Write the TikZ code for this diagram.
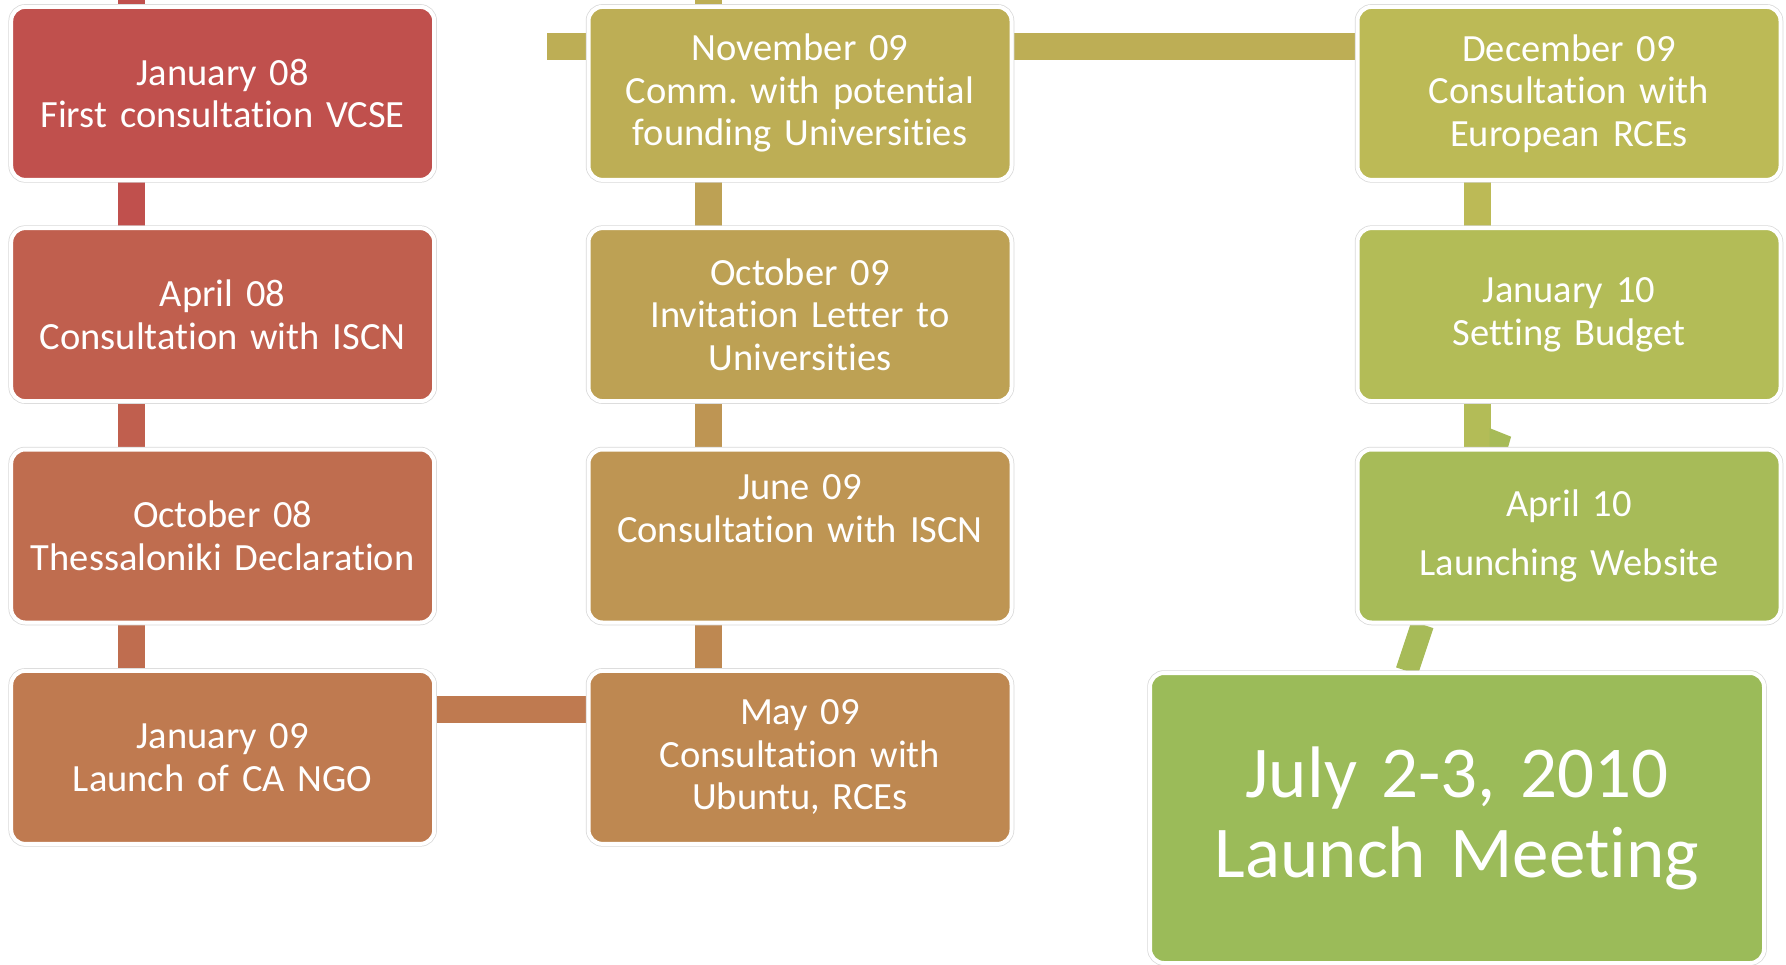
\documentclass[tikz,border=0pt]{standalone}
\usepackage{fontspec}
\setmainfont[Ligatures=NoCommon]{Carlito}
\frenchspacing
\usetikzlibrary{calc,backgrounds}
% one colour per event, red to green
\definecolor{t0}{RGB}{192,80,77}
\definecolor{t1}{RGB}{192,95,78}
\definecolor{t2}{RGB}{191,109,79}
\definecolor{t3}{RGB}{191,122,80}
\definecolor{t4}{RGB}{190,136,81}
\definecolor{t5}{RGB}{190,149,83}
\definecolor{t6}{RGB}{189,161,84}
\definecolor{t7}{RGB}{189,174,85}
\definecolor{t8}{RGB}{188,186,86}
\definecolor{t9}{RGB}{179,188,87}
\definecolor{t10}{RGB}{167,187,88}
\definecolor{t11}{RGB}{155,187,89}
\tikzset{
  event/.style={fill=#1, draw=white, line width=4pt, rounded corners=14pt,
    preaction={draw=black!15, line width=5.5pt},
    minimum width=423pt, minimum height=173pt, inner sep=0pt,
    text width=410pt, align=center, text=white,
    font=\fontsize{38.5}{42.5}\selectfont},
  link/.style={line width=27pt},
}

\begin{document}
\begin{tikzpicture}[x=1pt,y=-1pt]
  \useasboundingbox (0,0) rectangle (1786,964);
  % column 1
  \node[event=t0] (jan08) at (222.7,93.4) {January 08\\First consultation VCSE};
  \node[event=t1] (apr08) at (222.7,314.6) {April 08\\Consultation with ISCN};
  \node[event=t2] (oct08) at (222.7,536) {October 08\\Thessaloniki Declaration};
  \node[event=t3] (jan09) at (222.7,757.4) {January 09\\Launch of CA NGO};
  % column 2, read upwards
  \node[event=t4] (may09) at (800,757.4) {May 09\\Consultation with\\Ubuntu, RCEs};
  \node[event=t5] (jun09) at (800,536) {June 09\\Consultation with ISCN\\[0pt]\strut};
  \node[event=t6] (oct09) at (800,314.6) {October 09\\Invitation Letter to\\Universities};
  \node[event=t7] (nov09) at (800,93.4) {November 09\\Comm. with potential\\founding Universities};
  % column 3
  \node[event=t8] (dec09) at (1569,93.4) {December 09\\Consultation with\\European RCEs};
  \node[event=t9] (jan10) at (1569,314.6) {January 10\\Setting Budget};
  \node[event=t10, font=\fontsize{38.5}{59}\selectfont] (apr10) at (1569,536) {April 10\\Launching Website};
  \node[event=t11, minimum width=614pt, minimum height=290pt, text width=600pt,
    font=\fontsize{73}{80}\selectfont] (launch) at (1457,818) {July 2-3, 2010\\Launch Meeting};

  \begin{scope}[on background layer]
    \fill[white] (0,0) rectangle (1786,964);
    % vertical links
    \foreach \a/\b/\c in {jan08/apr08/t0, apr08/oct08/t1, oct08/jan09/t2,
                          nov09/oct09/t6, oct09/jun09/t5, jun09/may09/t4,
                          dec09/jan10/t8, jan10/apr10/t9}
      \draw[link, \c] ($(\a.south west)+(122,0)$) -- ($(\b.north west)+(122,0)$);
    % horizontal links
    \draw[link, t3] ($(jan09.north east)+(0,41)$) -- ($(may09.north west)+(0,41)$);
    \draw[link, t7] ($(nov09.north east)+(0,42)$) -- ($(dec09.north west)+(0,42)$);
    \draw[link, line width=23pt, t10] ($(apr10.south west)+(67,0)$) -- ($(launch.north west)+(259,0)$);
    % loose ends
    \draw[link, t0] ($(jan08.north west)+(122,0)$) -- ++(0,-8);
    \draw[link, t7] ($(nov09.north west)+(122,0)$) -- ++(0,-8);
    \draw[link, t7] ($(nov09.north west)+(0,42)$) -- ++(-40,0);
    \fill[t10] ($(jan10.south west)+(134,25)$) -- ++(21.6,8.6) -- ++(-3,10.4) -- ++(-18.6,0) -- cycle;
  \end{scope}
\end{tikzpicture}
\end{document}
